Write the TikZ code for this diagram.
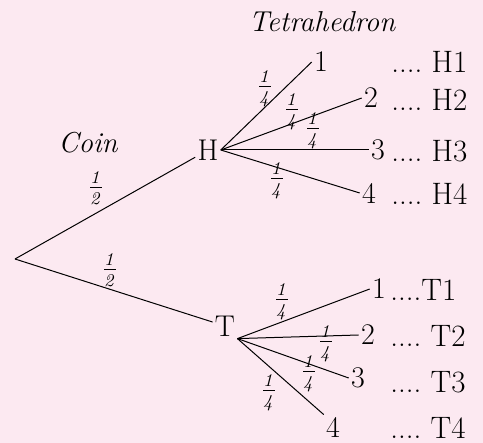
\documentclass[tikz,border=0pt]{standalone}
\usetikzlibrary{positioning}
\definecolor{bgpink}{RGB}{252,233,241}

\begin{document}
\begin{tikzpicture}[
    x=0.5pt, y=-0.5pt,
    lbl/.style={font=\fontsize{15}{18}\selectfont, inner sep=1pt},
    outc/.style={font=\fontsize{15.5}{18}\selectfont, anchor=west, inner sep=0pt},
    prob/.style={font=\fontsize{13.5}{16}\selectfont, inner sep=0pt},
    head/.style={font=\Large\itshape, inner sep=0pt},
    br/.style={line width=0.5pt}
]
\fill[bgpink] (0,0) rectangle (483,443);
\useasboundingbox (0,0) rectangle (483,443);

% Coin stage
\coordinate (root) at (15,259);
\node[lbl] (H) at (208,150) {H};
\node[lbl] (T) at (225,326) {T};
\node[head] (coin) at (88,143) {Coin};
\node[head] (tetra) at (322,22) {Tetrahedron};

\draw[br] (root) -- (H);
\draw[br] (root) -- (T);
\node[prob] (ph) at (96,188) {$\frac{\mathit{1}}{\mathit{2}}$};
\node[prob] (pt) at (110,270) {$\frac{\mathit{1}}{\mathit{2}}$};

% Tetrahedron after H
\node[lbl] (h1) at (321,62) {1};
\node[lbl] (h2) at (371,98) {2};
\node[lbl] (h3) at (378,150) {3};
\node[lbl] (h4) at (369,193) {4};

\draw[br] (H.east) -- (h1.west);
\draw[br] (H.east) -- (h2.west);
\draw[br] (H.east) -- (h3.west);
\draw[br] (H.east) -- (h4.west);

\node[prob] (ph1) at (265,89) {$\frac{\mathit{1}}{\mathit{4}}$};
\node[prob] (ph2) at (292,112) {$\frac{\mathit{1}}{\mathit{4}}$};
\node[prob] (ph3) at (313,131) {$\frac{\mathit{1}}{\mathit{4}}$};
\node[prob] (ph4) at (277,181) {$\frac{\mathit{1}}{\mathit{4}}$};

\node[outc] (oh1) at (391,62) {....~H1};
\node[outc] (oh2) at (391,100) {....~H2};
\node[outc] (oh3) at (391,151) {....~H3};
\node[outc] (oh4) at (391,194) {....~H4};

% Tetrahedron after T
\node[lbl] (t1) at (379,289) {1};
\node[lbl] (t2) at (368,335) {2};
\node[lbl] (t3) at (358,378) {3};
\node[lbl] (t4) at (333,427) {4};

\draw[br] (T.south east) -- (t1.west);
\draw[br] (T.south east) -- (t2.west);
\draw[br] (T.south east) -- (t3.west);
\draw[br] (T.south east) -- (t4.north west);

\node[prob] (pt1) at (282,302) {$\frac{\mathit{1}}{\mathit{4}}$};
\node[prob] (pt2) at (326,344) {$\frac{\mathit{1}}{\mathit{4}}$};
\node[prob] (pt3) at (309,374) {$\frac{\mathit{1}}{\mathit{4}}$};
\node[prob] (pt4) at (269,393) {$\frac{\mathit{1}}{\mathit{4}}$};

\node[outc] (ot1) at (390,290) {....T1};
\node[outc] (ot2) at (390,336) {....~T2};
\node[outc] (ot3) at (390,382) {....~T3};
\node[outc] (ot4) at (390,428) {....~T4};

\end{tikzpicture}
\end{document}
